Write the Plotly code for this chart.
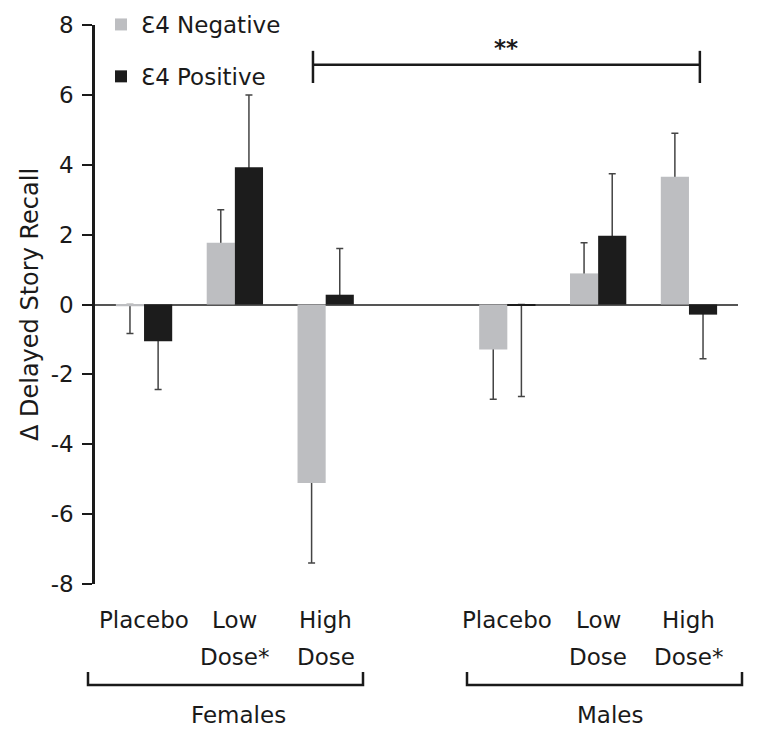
import plotly.graph_objects as go

# ---- data ----
categories = ["F Placebo", "F Low Dose", "F High Dose", "gap",
              "M Placebo", "M Low Dose", "M High Dose"]
bar_categories = ["F Placebo", "F Low Dose", "F High Dose",
                  "M Placebo", "M Low Dose", "M High Dose"]
label_line1 = ["Placebo", "Low", "High", "Placebo", "Low", "High"]
label_line2 = ["", "Dose*", "Dose", "", "Dose", "Dose*"]
group_names = ["Females", "Males"]

neg_values = [-0.05, 1.77, -5.11, -1.29, 0.89, 3.66]
neg_errors = [0.78, 0.94, 2.29, 1.42, 0.88, 1.24]
pos_values = [-1.05, 3.93, 0.28, -0.02, 1.97, -0.29]
pos_errors = [1.38, 2.07, 1.32, 2.61, 1.77, 1.26]

y_ticks = [-8, -6, -4, -2, 0, 2, 4, 6, 8]

FONT = "DejaVu Sans"
GREY = "#bdbec1"
BLACK = "#1c1c1c"
ERR = "#444444"
TXT = "#1a1a1a"
INSET = 0.06  # hide the inner error-bar cap just inside the bar end


def one_sided(vals, errs):
    """Whisker starts just inside the bar end (hidden by the bar) and points away from zero."""
    base, up, down = [], [], []
    for v, e in zip(vals, errs):
        s = min(INSET, abs(v))
        if v >= 0:
            base.append(v - s); up.append(e + s); down.append(0)
        else:
            base.append(v + s); up.append(0); down.append(e + s)
    return base, up, down


nb, nu, nd = one_sided(neg_values, neg_errors)
pb, pu, pd_ = one_sided(pos_values, pos_errors)

fig = go.Figure()
# error bars first (on transparent bars) so the real bars cover the inner caps
for vals, up, dn, grp in [(nb, nu, nd, "neg"), (pb, pu, pd_, "pos")]:
    fig.add_trace(go.Bar(
        x=bar_categories, y=vals, offsetgroup=grp, showlegend=False,
        marker=dict(color="rgba(0,0,0,0)", line=dict(width=0)), hoverinfo="skip",
        error_y=dict(type="data", symmetric=False, array=up, arrayminus=dn,
                     color=ERR, thickness=1.5, width=3.5)))

fig.add_trace(go.Bar(
    x=bar_categories, y=neg_values, name="Ɛ4 Negative", offsetgroup="neg",
    marker=dict(color=GREY, line=dict(width=0)), legendgroup="a"))
fig.add_trace(go.Bar(
    x=bar_categories, y=pos_values, name="Ɛ4 Positive", offsetgroup="pos",
    marker=dict(color=BLACK, line=dict(width=0)), legendgroup="b"))

# geometry: page body has an 8px margin, so figure is shrunk accordingly
W, H = 754, 735
L, R, T, B = 87, 24, 17, 159
# reference plot area (px): x 95..738, y 25..584


def py(p):  # reference pixel y -> paper y
    return (584 - p) / 559


def px(p):  # reference pixel x -> paper x
    return (p - 95) / 643


fig.update_layout(
    width=W, height=H,
    margin=dict(l=L, r=R, t=T, b=B, autoexpand=False),
    paper_bgcolor="white", plot_bgcolor="white",
    barmode="group", bargap=0.38, bargroupgap=0,
    font=dict(family=FONT, size=22, color=TXT),
    showlegend=True,
    legend=dict(x=px(101), y=py(3), xanchor="left", yanchor="top",
                traceorder="grouped", tracegroupgap=19,
                font=dict(size=23, family=FONT, color=TXT),
                bgcolor="rgba(0,0,0,0)"),
    xaxis=dict(type="category", categoryorder="array", categoryarray=categories,
               range=[-0.54, 6.54], showticklabels=False, showline=False,
               ticks="", showgrid=False, zeroline=False),
    yaxis=dict(range=[-8, 8], tickvals=y_ticks, ticktext=[str(v) for v in y_ticks],
               showline=True, linecolor=TXT, linewidth=2.5,
               ticks="outside", ticklen=10, tickwidth=2, tickcolor=TXT,
               showgrid=False, zeroline=True, zerolinecolor="#555555",
               zerolinewidth=1.5, ticklabelstandoff=4,
               tickfont=dict(size=23, family=FONT, color=TXT),
               title=dict(text="Δ Delayed Story Recall", standoff=6,
                          font=dict(size=24, family=FONT, color=TXT))),
)

# x labels (two lines)
for cat, l1, l2 in zip(bar_categories, label_line1, label_line2):
    fig.add_annotation(x=cat, xref="x", y=py(620), yref="paper", text=l1,
                       showarrow=False, xanchor="center", yanchor="middle",
                       font=dict(size=23, family=FONT, color=TXT))
    if l2:
        fig.add_annotation(x=cat, xref="x", y=py(657), yref="paper", text=l2,
                           showarrow=False, xanchor="center", yanchor="middle",
                           font=dict(size=23, family=FONT, color=TXT))

# group brackets
for name, (x0, x1), cx in zip(group_names, [(88, 363), (467, 742)], [238, 610]):
    fig.add_shape(type="path", xref="paper", yref="paper",
                  path=f"M {px(x0)} {py(672)} L {px(x0)} {py(685)} "
                       f"L {px(x1)} {py(685)} L {px(x1)} {py(672)}",
                  line=dict(color=TXT, width=2.5))
    fig.add_annotation(x=px(cx), xref="paper", y=py(715), yref="paper",
                       text=name, showarrow=False, xanchor="center", yanchor="middle",
                       font=dict(size=23, family=FONT, color=TXT))

# significance bracket
sx0, sx1 = 1.86, 6.12
fig.add_shape(type="line", xref="x", yref="y", x0=sx0, x1=sx1, y0=6.86, y1=6.86,
              line=dict(color=TXT, width=2.5))
for sx in (sx0, sx1):
    fig.add_shape(type="line", xref="x", yref="y", x0=sx, x1=sx, y0=6.34, y1=7.26,
                  line=dict(color=TXT, width=2.5))
fig.add_annotation(x=(sx0 + sx1) / 2, xref="x", y=7.35, yref="y", text="<b>**</b>",
                   showarrow=False, xanchor="center", yanchor="middle",
                   font=dict(size=23, family=FONT, color=TXT))

fig.write_html("out.html")
